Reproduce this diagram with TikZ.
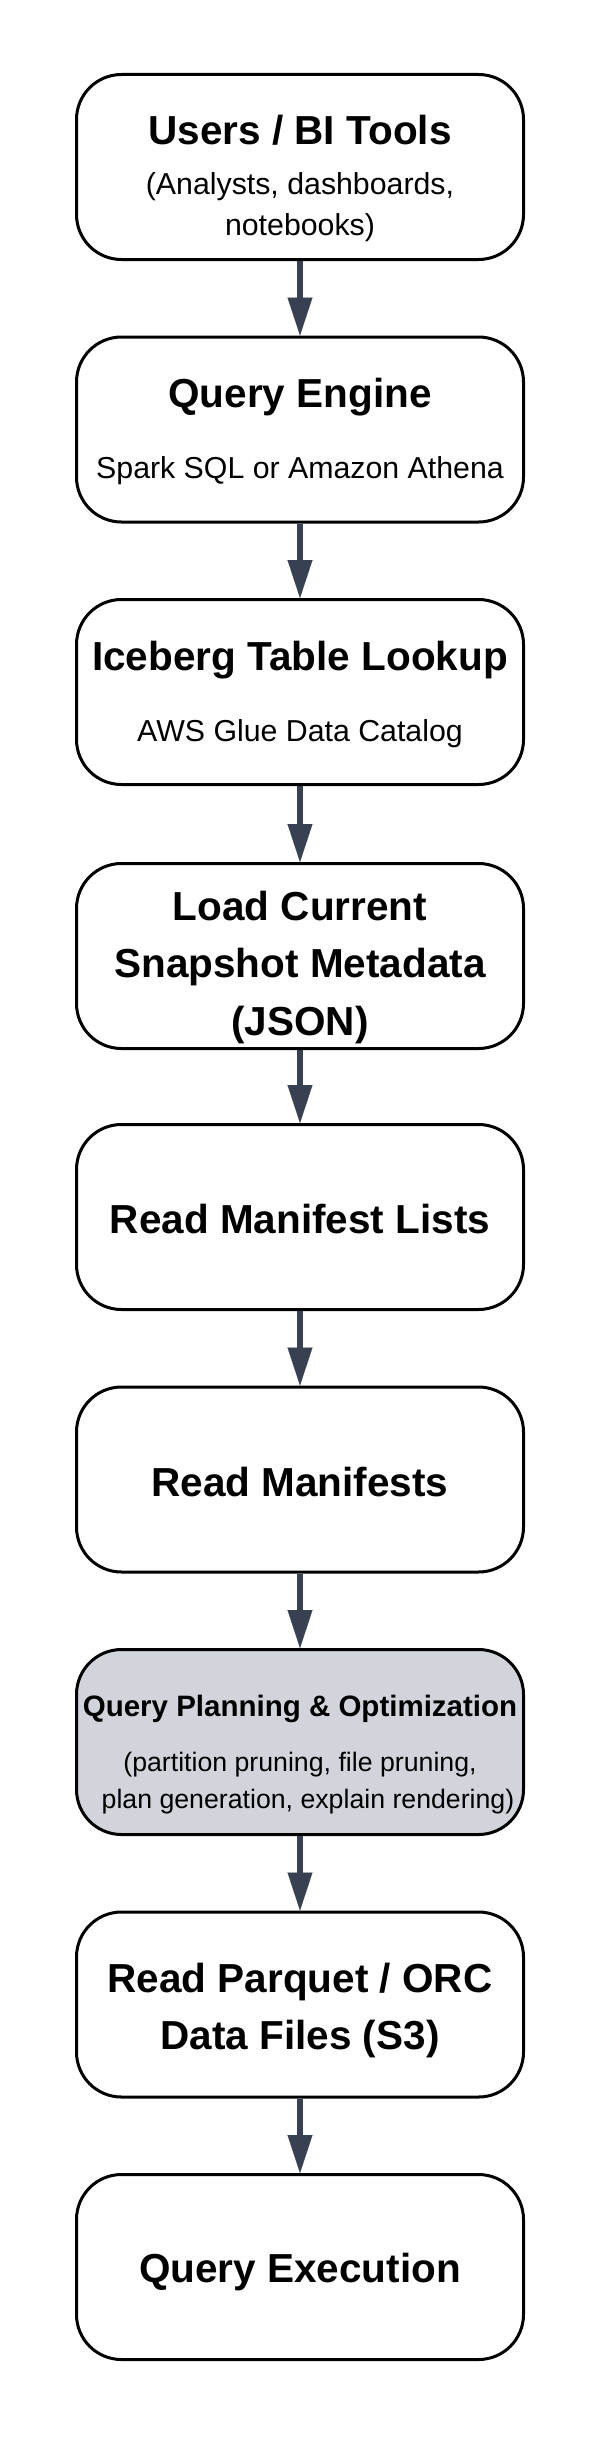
\documentclass[tikz,border=0pt]{standalone}
\usepackage{fontspec}
\setmainfont{Liberation Sans}
\usetikzlibrary{arrows.meta}
\definecolor{arrowcol}{RGB}{55,65,81}
\definecolor{graybox}{RGB}{209,213,219}
\tikzset{
  box/.style={draw=black, line width=3pt, rounded corners=45pt, minimum width=447pt, minimum height=185pt, fill=white, inner sep=0pt},
  ttl/.style={font=\fontsize{40.5}{48}\selectfont\bfseries, anchor=base, inner sep=0pt},
  sub/.style={font=\fontsize{30.3}{36}\selectfont, anchor=base, inner sep=0pt},
  ttlsmall/.style={font=\fontsize{29.5}{35}\selectfont\bfseries, anchor=base, inner sep=0pt},
  subsmall/.style={font=\fontsize{26.7}{32}\selectfont, anchor=base, inner sep=0pt},
  arr/.style={draw=arrowcol, line width=5.3pt, -{Triangle[length=38pt,width=25pt,line width=0.1pt]}, color=arrowcol}
}
\begin{document}
\begin{tikzpicture}[x=1pt,y=-1pt]
\path[use as bounding box, fill=white] (0,0) rectangle (600,2438);
% boxes
\node[box] (b1) at (300,167) {};
\node[box] (b2) at (300,429.5) {};
\node[box] (b3) at (300,692) {};
\node[box] (b4) at (300,956) {};
\node[box] (b5) at (300,1217) {};
\node[box] (b6) at (300,1479.5) {};
\node[box, fill=graybox] (b7) at (300,1742) {};
\node[box] (b8) at (300,2004.5) {};
\node[box] (b9) at (300,2267) {};
% arrows
\draw[arr] (b1) -- (b2);
\draw[arr] (b2) -- (b3);
\draw[arr] (b3) -- (b4);
\draw[arr] (b4) -- (b5);
\draw[arr] (b5) -- (b6);
\draw[arr] (b6) -- (b7);
\draw[arr] (b7) -- (b8);
\draw[arr] (b8) -- (b9);
% texts
\node[ttl] (t1) at (300,144) {Users / BI Tools};
\node[sub] (s1a) at (300,194) {(Analysts, dashboards,};
\node[sub] (s1b) at (300,235) {notebooks)};
\node[ttl] (t2) at (300,407.5) {Query Engine};
\node[sub] (s2) at (300,478.5) {Spark SQL or Amazon Athena};
\node[ttl] (t3) at (300,670.5) {Iceberg Table Lookup};
\node[sub] (s3) at (300,741.5) {AWS Glue Data Catalog};
\node[ttl] (t4a) at (300,920) {Load Current};
\node[ttl] (t4b) at (300,977) {Snapshot Metadata};
\node[ttl] (t4c) at (300,1035) {(JSON)};
\node[ttl] (t5) at (300,1233) {Read Manifest Lists};
\node[ttl] (t6) at (300,1496) {Read Manifests};
\node[ttlsmall] (t7) at (300,1716) {Query Planning \& Optimization};
\node[subsmall] (s7a) at (300,1771) {(partition pruning, file pruning,};
\node[subsmall] (s7b) at (308,1808) {plan generation, explain rendering)};
\node[ttl] (t8a) at (300,1992) {Read Parquet / ORC};
\node[ttl] (t8b) at (300,2049) {Data Files (S3)};
\node[ttl] (t9) at (300,2282) {Query Execution};
\end{tikzpicture}
\end{document}
